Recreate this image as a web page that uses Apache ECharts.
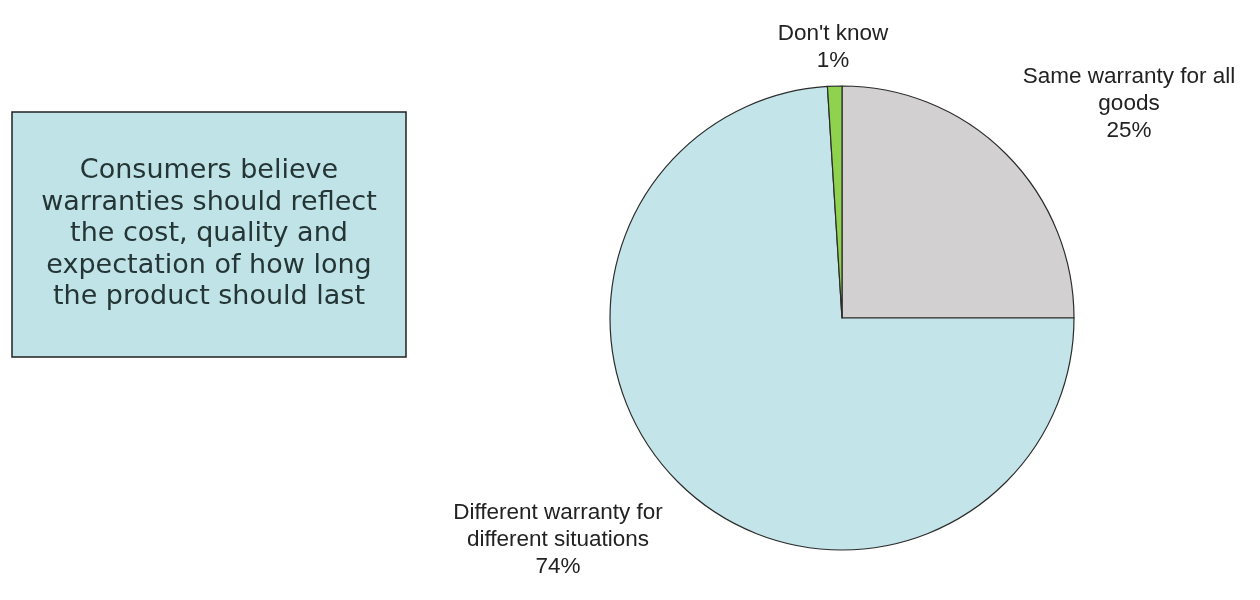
<!DOCTYPE html>
<html>
<head>
<meta charset="utf-8">
<script src="https://cdn.jsdelivr.net/npm/echarts@6/dist/echarts.min.js"></script>
<style>
  html, body { margin: 0; padding: 0; background: #ffffff; }
  #pie { width: 1260px; height: 600px; }
</style>
</head>
<body>
<div id="pie"></div>
<script>
// slices in clockwise order starting at 12 o'clock
var sliceNames = ['Same warranty for all\ngoods', 'Different warranty for\ndifferent situations', "Don't know"];
var sliceValues = [25, 74, 1];
var sliceColors = ['#d3d0d1', '#c3e4e8', '#8fd24e'];

var noteText = 'Consumers believe\nwarranties should reflect\nthe cost, quality and\nexpectation of how long\nthe product should last';

// where each label block sits (centre of the text)
var labelSpots = [[1129, 104], [558, 540], [833, 47]];

var pieData = sliceNames.map(function (n, i) {
    return { name: n, value: sliceValues[i], itemStyle: { color: sliceColors[i] } };
});

var pieoption = {
    animation: false,
    backgroundColor: '#ffffff',
    graphic: [
        {
            type: 'rect',
            shape: { x: 12, y: 112, width: 394, height: 245 },
            style: { fill: '#bfe3e7', stroke: '#222', lineWidth: 1.5 }
        },
        {
            type: 'text',
            x: 209,
            y: 234,
            style: {
                text: noteText,
                fill: '#253535',
                font: '27px "DejaVu Sans"',
                lineHeight: 31.5,
                align: 'center',
                verticalAlign: 'middle'
            }
        }
    ],
    series: [
        {
            type: 'pie',
            center: [842, 318],
            radius: 232,
            startAngle: 90,
            clockwise: true,
            data: pieData,
            itemStyle: {
                borderColor: '#2b2b2b',
                borderWidth: 1.2
            },
            label: {
                show: true,
                position: 'outside',
                formatter: '{b}\n{d}%',
                color: '#222',
                fontFamily: 'Liberation Sans',
                fontSize: 22.5,
                lineHeight: 27,
                overflow: 'none'
            },
            labelLine: { show: false },
            labelLayout: function (p) {
                var s = labelSpots[p.dataIndex];
                return { x: s[0], y: s[1], align: 'center', verticalAlign: 'middle' };
            },
            emphasis: { disabled: true }
        }
    ]
};

var piedom = document.getElementById('pie');
var pieChart = echarts.init(piedom);
pieoption && pieChart.setOption(pieoption);
</script>
</body>
</html>
